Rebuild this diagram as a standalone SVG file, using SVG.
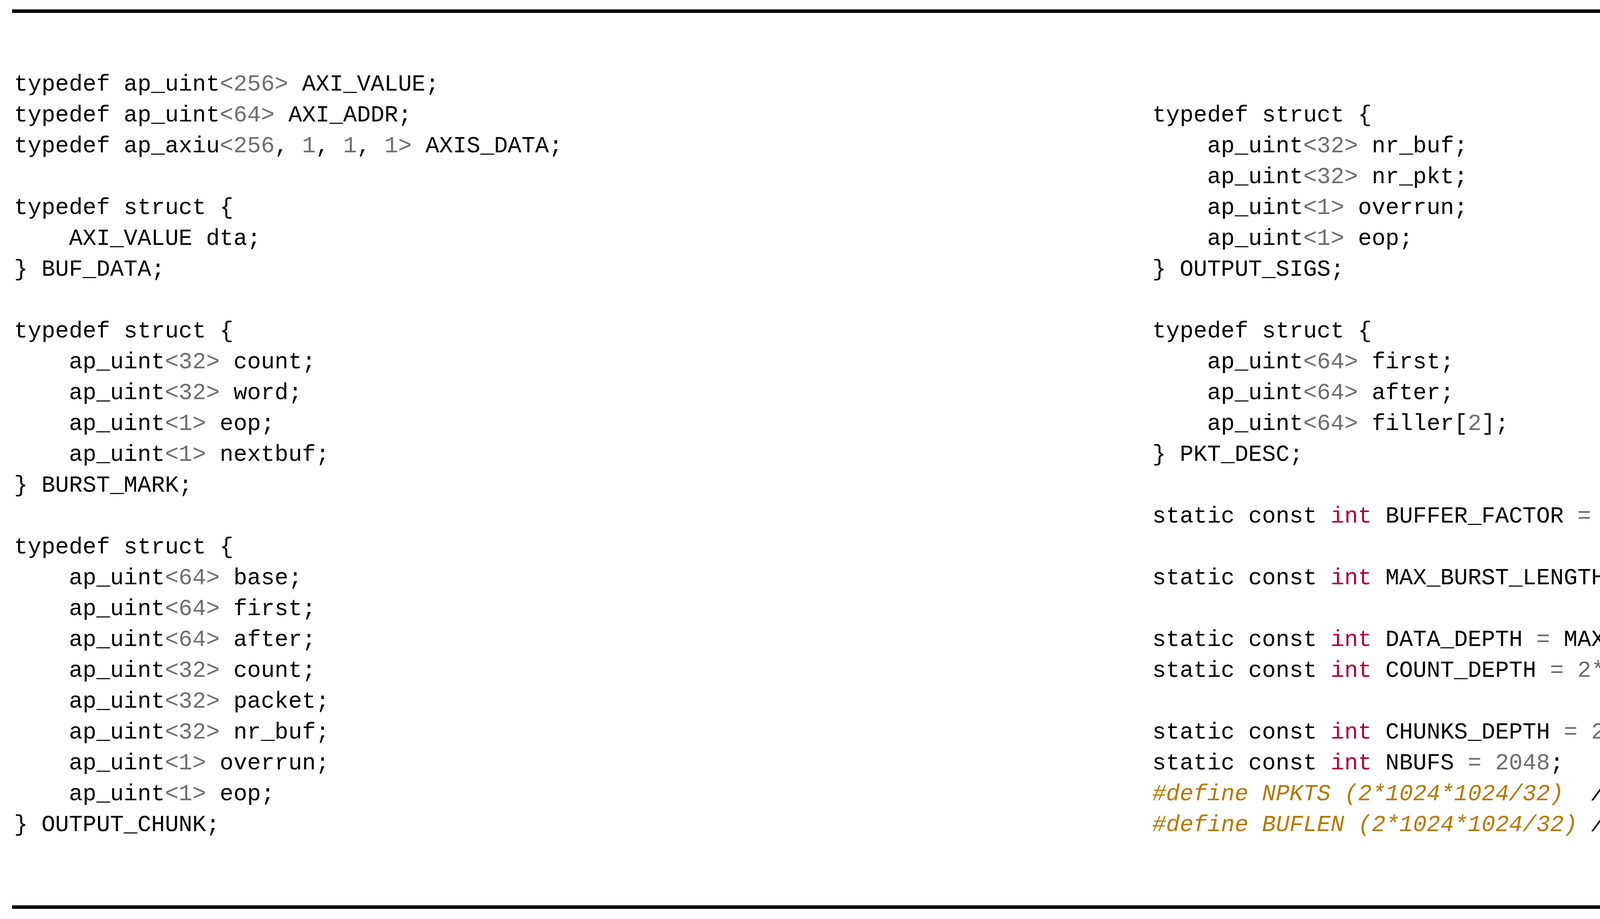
<svg xmlns="http://www.w3.org/2000/svg" width="5801" height="2353" viewBox="0 0 5801 2353">
<style>
text{font-family:"Liberation Mono","DejaVu Sans Mono",monospace;font-size:58.5px;fill:#000;white-space:pre}
.n{fill:#6e6e6e}.k{fill:#b0003f}.d{fill:#b87800;font-style:italic}.c{font-style:italic}
</style>
<rect x="0" y="0" width="5801" height="2353" fill="#fff"/>
<rect x="31" y="24" width="5740" height="9" fill="#000"/>
<rect x="31" y="2318" width="5740" height="9" fill="#000"/>
<g id="left" xml:space="preserve">
<text x="36" y="232">typedef ap_uint<tspan class="n">&lt;256&gt;</tspan> AXI_VALUE;</text>
<text x="36" y="311">typedef ap_uint<tspan class="n">&lt;64&gt;</tspan> AXI_ADDR;</text>
<text x="36" y="390">typedef ap_axiu<tspan class="n">&lt;256</tspan>, <tspan class="n">1</tspan>, <tspan class="n">1</tspan>, <tspan class="n">1&gt;</tspan> AXIS_DATA;</text>
<text x="36" y="548">typedef struct {</text>
<text x="36" y="627">    AXI_VALUE dta;</text>
<text x="36" y="706">} BUF_DATA;</text>
<text x="36" y="864">typedef struct {</text>
<text x="36" y="943">    ap_uint<tspan class="n">&lt;32&gt;</tspan> count;</text>
<text x="36" y="1022">    ap_uint<tspan class="n">&lt;32&gt;</tspan> word;</text>
<text x="36" y="1101">    ap_uint<tspan class="n">&lt;1&gt;</tspan> eop;</text>
<text x="36" y="1180">    ap_uint<tspan class="n">&lt;1&gt;</tspan> nextbuf;</text>
<text x="36" y="1259">} BURST_MARK;</text>
<text x="36" y="1417">typedef struct {</text>
<text x="36" y="1496">    ap_uint<tspan class="n">&lt;64&gt;</tspan> base;</text>
<text x="36" y="1575">    ap_uint<tspan class="n">&lt;64&gt;</tspan> first;</text>
<text x="36" y="1654">    ap_uint<tspan class="n">&lt;64&gt;</tspan> after;</text>
<text x="36" y="1733">    ap_uint<tspan class="n">&lt;32&gt;</tspan> count;</text>
<text x="36" y="1812">    ap_uint<tspan class="n">&lt;32&gt;</tspan> packet;</text>
<text x="36" y="1891">    ap_uint<tspan class="n">&lt;32&gt;</tspan> nr_buf;</text>
<text x="36" y="1970">    ap_uint<tspan class="n">&lt;1&gt;</tspan> overrun;</text>
<text x="36" y="2049">    ap_uint<tspan class="n">&lt;1&gt;</tspan> eop;</text>
<text x="36" y="2128">} OUTPUT_CHUNK;</text>
</g>
<g id="right" xml:space="preserve">
<text x="2950" y="311">typedef struct {</text>
<text x="2950" y="390">    ap_uint<tspan class="n">&lt;32&gt;</tspan> nr_buf;</text>
<text x="2950" y="469">    ap_uint<tspan class="n">&lt;32&gt;</tspan> nr_pkt;</text>
<text x="2950" y="548">    ap_uint<tspan class="n">&lt;1&gt;</tspan> overrun;</text>
<text x="2950" y="627">    ap_uint<tspan class="n">&lt;1&gt;</tspan> eop;</text>
<text x="2950" y="706">} OUTPUT_SIGS;</text>
<text x="2950" y="864">typedef struct {</text>
<text x="2950" y="943">    ap_uint<tspan class="n">&lt;64&gt;</tspan> first;</text>
<text x="2950" y="1022">    ap_uint<tspan class="n">&lt;64&gt;</tspan> after;</text>
<text x="2950" y="1101">    ap_uint<tspan class="n">&lt;64&gt;</tspan> filler[<tspan class="n">2</tspan>];</text>
<text x="2950" y="1180">} PKT_DESC;</text>
<text x="2950" y="1338">static const <tspan class="k">int</tspan> BUFFER_FACTOR <tspan class="n">= 2</tspan>;</text>
<text x="2950" y="1496">static const <tspan class="k">int</tspan> MAX_BURST_LENGTH <tspan class="n">= 256</tspan>;</text>
<text x="2950" y="1654">static const <tspan class="k">int</tspan> DATA_DEPTH <tspan class="n">=</tspan> MAX_BURST_LENGTH <tspan class="n">*</tspan> BUFFER_FACTOR;</text>
<text x="2950" y="1733">static const <tspan class="k">int</tspan> COUNT_DEPTH <tspan class="n">= 2*</tspan>BUFFER_FACTOR;</text>
<text x="2950" y="1891">static const <tspan class="k">int</tspan> CHUNKS_DEPTH <tspan class="n">= 2*</tspan>BUFFER_FACTOR;</text>
<text x="2950" y="1970">static const <tspan class="k">int</tspan> NBUFS <tspan class="n">= 2048</tspan>;</text>
<text x="2950" y="2049"><tspan class="d">#define NPKTS (2*1024*1024/32)</tspan>  <tspan class="c">//Number of packets in desc. buffer</tspan></text>
<text x="2950" y="2128"><tspan class="d">#define BUFLEN (2*1024*1024/32)</tspan> <tspan class="c">//Length of buffer in words</tspan></text>
</g>
</svg>
